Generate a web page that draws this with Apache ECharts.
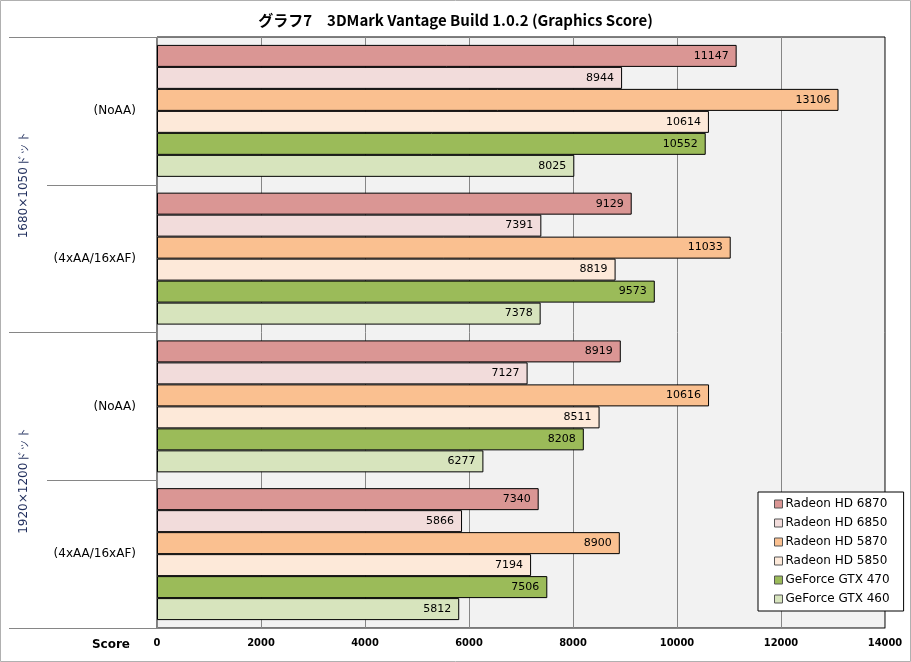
<!DOCTYPE html>
<html>
<head>
    <title>グラフ7</title>
    <meta charset="UTF-8">
    <script type="text/javascript" src="https://cdn.jsdelivr.net/npm/echarts@6/dist/echarts.min.js"></script>
    <style>
        body { margin: 0; background: #fff; }
        #main { width: 911px; height: 662px; }
    </style>
</head>
<body>
<div id="main"></div>
<script type="text/javascript">
    // 数据
    var groupNames = ['1680×1050ドット', '1920×1200ドット'];
    var innerNames = ['(NoAA)', '(4xAA/16xAF)', '(NoAA)', '(4xAA/16xAF)'];
    var categories = ['1680 NoAA', '1680 AA', '1920 NoAA', '1920 AA'];
    var seriesNames = ['Radeon HD 6870', 'Radeon HD 6850', 'Radeon HD 5870', 'Radeon HD 5850', 'GeForce GTX 470', 'GeForce GTX 460'];
    var hd6870 = [11147, 9129, 8919, 7340];
    var hd6850 = [8944, 7391, 7127, 5866];
    var hd5870 = [13106, 11033, 10616, 8900];
    var hd5850 = [10614, 8819, 8511, 7194];
    var gtx470 = [10552, 9573, 8208, 7506];
    var gtx460 = [8025, 7378, 6277, 5812];
    var colors = ['#da9694', '#f2dcdb', '#fac090', '#fde9d9', '#9bbb59', '#d7e4bd'];

    var values = [hd6870, hd6850, hd5870, hd5850, gtx470, gtx460];
    var series = [];
    for (var i = 0; i < seriesNames.length; i++) {
        series.push({
            name: seriesNames[i],
            type: 'bar',
            yAxisIndex: 0,
            barGap: '0%',
            barCategoryGap: '10.7%',
            itemStyle: {color: colors[i], borderColor: '#000', borderWidth: 1},
            label: {
                show: true,
                position: 'insideRight',
                distance: 8,
                color: '#000',
                fontFamily: 'DejaVu Sans',
                fontSize: 11
            },
            data: values[i]
        });
    }

    var myChart = echarts.init(document.getElementById('main'));
    myChart.setOption({
        animation: false,
        title: {
            text: 'グラフ7　3DMark Vantage Build 1.0.2 (Graphics Score)',
            left: 'center',
            top: 8,
            textStyle: {fontFamily: 'Noto Sans CJK JP', fontSize: 15, fontWeight: 'bold', color: '#000'}
        },
        legend: {
            orient: 'vertical',
            left: 758,
            top: 492,
            padding: [5, 14, 5, 16],
            itemGap: 5,
            itemWidth: 8,
            itemHeight: 8,
            icon: 'rect',
            backgroundColor: '#fff',
            borderColor: '#000',
            borderWidth: 1,
            itemStyle: {borderColor: '#555', borderWidth: 1},
            textStyle: {fontFamily: 'DejaVu Sans', fontSize: 12, color: '#000', lineHeight: 14, padding: [0, 0, 0, -2]},
            data: seriesNames
        },
        graphic: [{
            type: 'rect',
            shape: {x: 0.5, y: 0.5, width: 910, height: 661},
            style: {fill: null, stroke: '#b0b0b0', lineWidth: 1},
            silent: true
        }],
        grid: {
            left: 157,
            right: 26,
            top: 37,
            bottom: 34,
            show: true,
            backgroundColor: '#f2f2f2',
            borderColor: '#000',
            borderWidth: 1
        },
        xAxis: {
            type: 'value',
            min: 0,
            max: 14000,
            interval: 2000,
            name: 'Score',
            nameLocation: 'start',
            nameGap: 27,
            nameTextStyle: {fontFamily: 'DejaVu Sans', fontSize: 12, fontWeight: 'bold', color: '#000', verticalAlign: 'top', padding: [11, 0, 0, 0]},
            axisLine: {show: true, lineStyle: {color: '#868686'}},
            axisTick: {show: false},
            axisLabel: {
                margin: 10,
                fontFamily: 'DejaVu Sans Condensed',
                fontWeight: 'bold',
                fontSize: 11,
                color: '#000',
                formatter: function (v) { return String(v); }
            },
            splitLine: {show: true, lineStyle: {color: '#868686', width: 1}}
        },
        yAxis: [{
            type: 'category',
            inverse: true,
            data: categories,
            axisLine: {show: true, lineStyle: {color: '#868686'}},
            axisTick: {show: true, length: 110, lineStyle: {color: '#868686'}},
            axisLabel: {
                margin: 21,
                fontFamily: 'DejaVu Sans',
                fontSize: 12,
                color: '#000',
                formatter: function (v, idx) { return innerNames[idx]; }
            }
        }, {
            type: 'category',
            inverse: true,
            position: 'left',
            data: groupNames,
            axisLine: {show: false},
            axisTick: {show: true, length: 148, lineStyle: {color: '#868686'}},
            axisLabel: {
                rotate: 90,
                margin: 127,
                fontFamily: 'DejaVu Sans',
                fontSize: 12,
                color: '#1f2d5c'
            }
        }],
        series: series
    });
</script>
</body>
</html>
